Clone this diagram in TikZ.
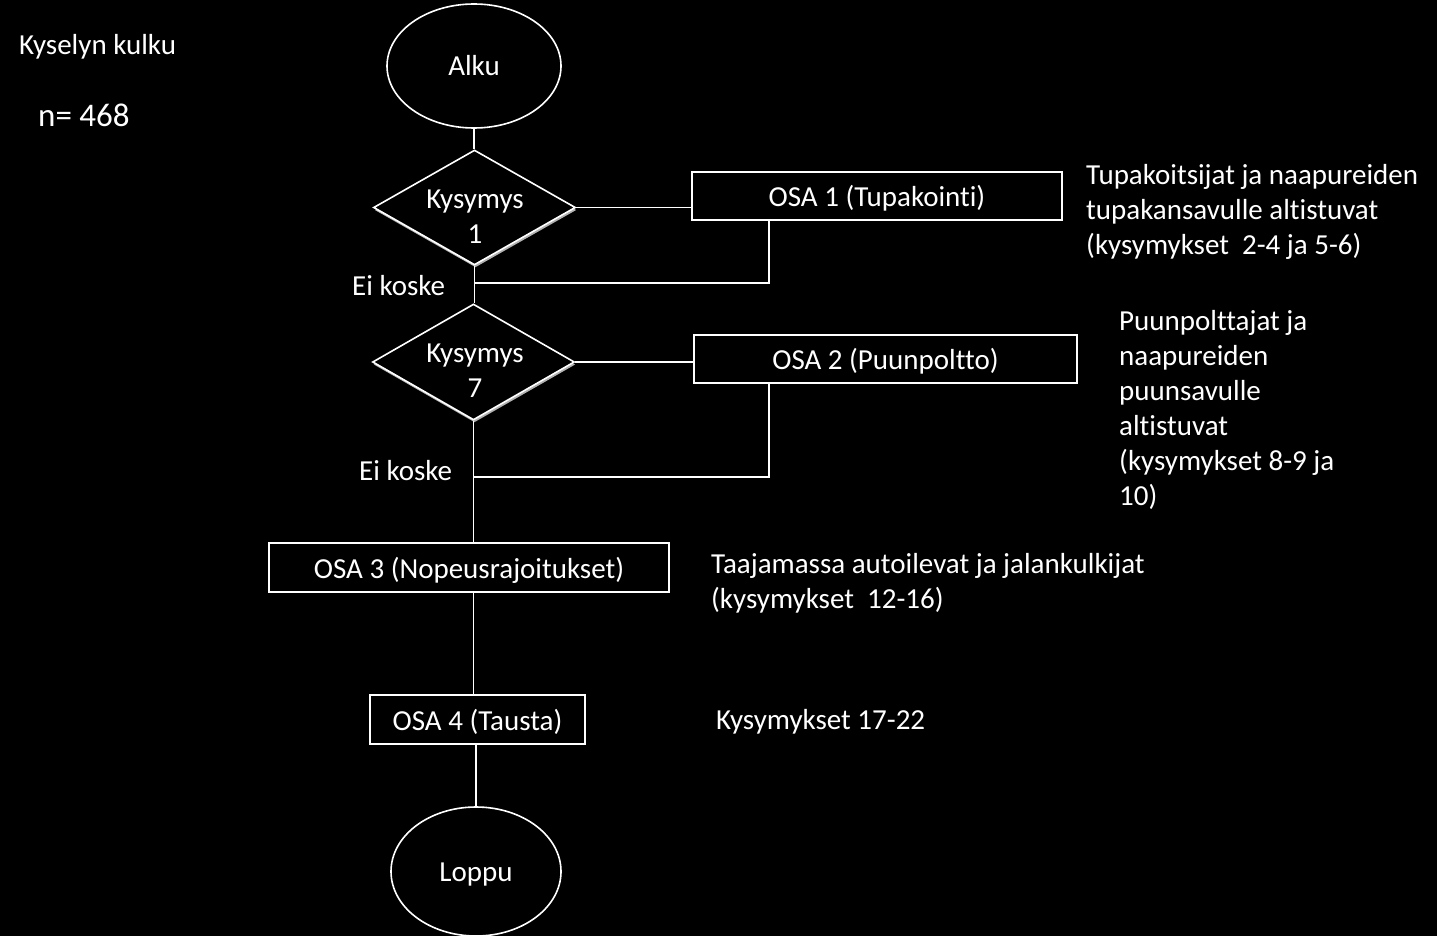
\documentclass[tikz,border=0pt]{standalone}
\usepackage{fontspec}
\setmainfont{Carlito}[Ligatures={NoCommon}]
\usetikzlibrary{shapes.geometric,shadows}
\begin{document}
\begin{tikzpicture}[x=1pt,y=-1pt,
  every node/.style={text=white,font=\fontsize{29}{35}\selectfont},
  ln/.style={draw=white,line width=1.6pt},
  oval/.style={ellipse,draw=white,line width=1.6pt,fill=black,inner sep=0pt},
  dia/.style={diamond,draw=white,line width=1.6pt,fill=black,inner sep=0pt,
    drop shadow={shadow xshift=1pt,shadow yshift=-2.5pt,fill=gray!60,opacity=1}},
  osabox/.style={rectangle,draw=white,line width=1.6pt,fill=black,inner sep=0pt,
    text height=26pt,text depth=5pt},
  txt/.style={anchor=base west,align=left,inner sep=0pt}]
\fill[black] (0,0) rectangle (1437,936);
\useasboundingbox (0,0) rectangle (1437,936);

% titles
\node[txt] (title) at (19,55) {Kyselyn kulku};
\node[txt,font=\fontsize{33}{38}\selectfont] (n) at (38,127) {n= 468};

% shapes
\node[oval,minimum width=174,minimum height=124] (alku) at (474,66) {Alku};
\node[dia,minimum width=202,minimum height=115] (d1) at (474.5,207.5) {};
\node[align=center,inner sep=0pt] (d1t) at (475,216.5) {Kysymys\\1};
\node[osabox,minimum width=370,minimum height=48] (b1) at (877,196) {OSA 1 (Tupakointi)};
\node[dia,minimum width=202,minimum height=116] (d2) at (473.5,362) {};
\node[align=center,inner sep=0pt] (d2t) at (475,370.5) {Kysymys\\7};
\node[osabox,minimum width=383,minimum height=48] (b2) at (885.5,359) {OSA 2 (Puunpoltto)};
\node[osabox,minimum width=400,minimum height=49] (b3) at (469,567.5) {OSA 3 (Nopeusrajoitukset)};
\node[osabox,minimum width=215,minimum height=49] (b4) at (477.5,719.5) {OSA 4 (Tausta)};
\node[oval,minimum width=170,minimum height=129] (loppu) at (476,871.5) {};
\node[inner sep=0pt] (lopput) at (476,875) {Loppu};

% join points
\coordinate (j1) at (474,283);
\coordinate (j2) at (474,477);

% connectors
\draw[ln] (alku.south) -- (alku.south |- d1.north);
\draw[ln] (d1.east) -- (d1.east -| b1.west);
\draw[ln] (b1.south west) ++(78,0) |- (j1);
\draw[ln] (d1.south) -- (d1.south |- d2.north);
\draw[ln] (d2.east) -- (d2.east -| b2.west);
\draw[ln] (b2.south west) ++(76,0) |- (j2);
\draw[ln] (d2.south) -- (d2.south |- b3.north);
\draw[ln] (b3.south -| d2.south) -- (b4.north -| d2.south);
\draw[ln] (loppu.north |- b4.south) -- (loppu.north);

% labels (multi-line nodes are anchored at the baseline of their last line)
\node[txt] (ek1) at (352,295) {Ei koske};
\node[txt] (ek2) at (359,480) {Ei koske};
\node[txt] (t1) at (1086,254) {Tupakoitsijat ja naapureiden\\tupakansavulle altistuvat\\(kysymykset\ \ 2-4 ja 5-6)};
\node[txt] (t2) at (1119,505) {Puunpolttajat ja\\naapureiden\\puunsavulle\\altistuvat\\(kysymykset 8-9 ja\\10)};
\node[txt] (t3) at (711,608) {Taajamassa autoilevat ja jalankulkijat\\(kysymykset\ \ 12-16)};
\node[txt] (t4) at (716,729) {Kysymykset 17-22};
\end{tikzpicture}
\end{document}
